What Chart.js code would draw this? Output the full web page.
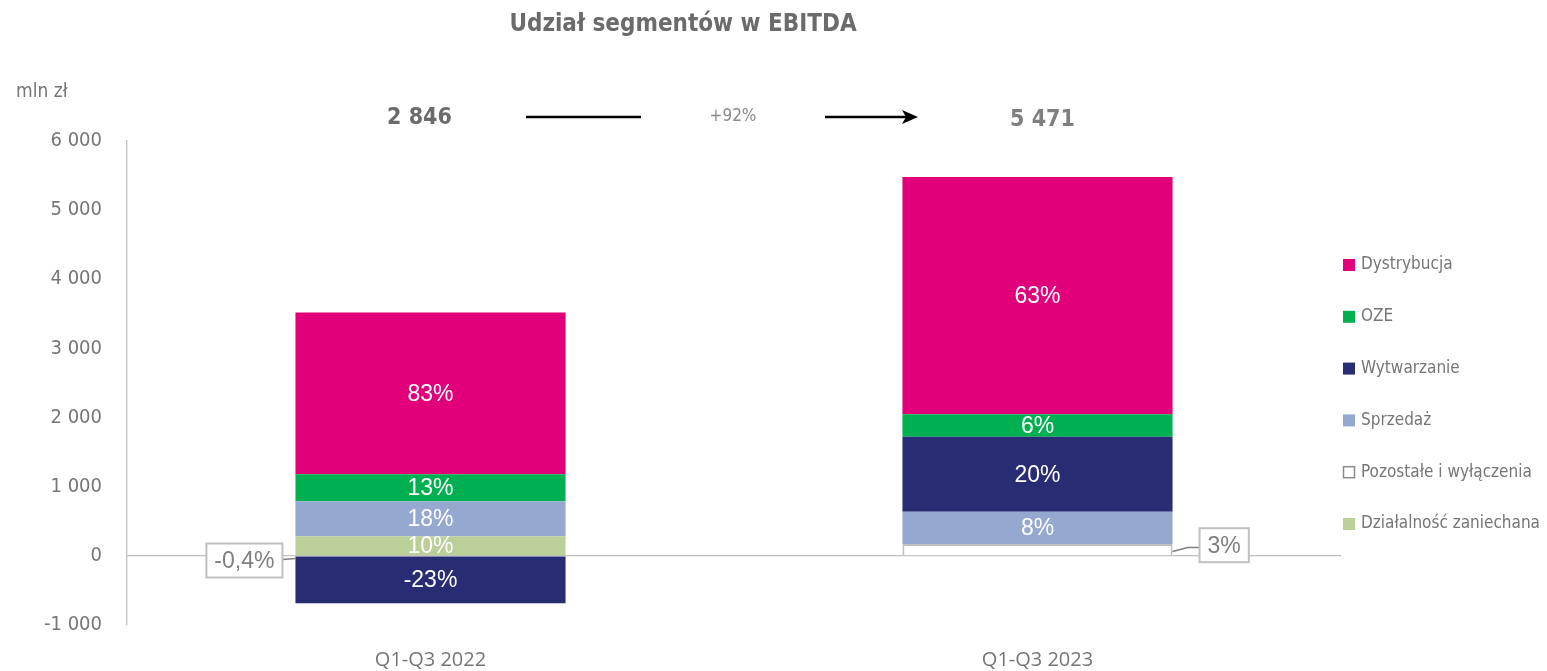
<!DOCTYPE html>
<html lang="pl">
<head>
<meta charset="utf-8">
<title>Udział segmentów w EBITDA</title>
<script src="https://cdn.jsdelivr.net/npm/chart.js@4"></script>
<style>
  html, body { margin: 0; padding: 0; background: #fff; }
  #wrap { width: 1547px; height: 671px; }
</style>
</head>
<body>
<div id="wrap"><canvas id="chart" width="1547" height="671"></canvas></div>
<script>
// dane (mln zł)
const categories = ['Q1-Q3 2022', 'Q1-Q3 2023'];
const pozostale = [-11, 172];
const dzialalnosc = [283, 0];
const sprzedaz = [507, 467];
const wytwarzanie = [-675, 1085];
const oze = [391, 324];
const dystrybucja = [2339, 3432];

// udziały pokazane na słupkach
const sharePozostale = ['-0,4%', '3%'];
const shareDzialalnosc = ['10%', ''];
const shareSprzedaz = ['18%', '8%'];
const shareWytwarzanie = ['-23%', '20%'];
const shareOze = ['13%', '6%'];
const shareDystrybucja = ['83%', '63%'];

const totals = ['2 846', '5 471'];
const growth = '+92%';
const yTicks = [-1000, 0, 1000, 2000, 3000, 4000, 5000, 6000];
const legendOrder = ['Dystrybucja', 'OZE', 'Wytwarzanie', 'Sprzedaż', 'Pozostałe i wyłączenia', 'Działalność zaniechana'];

const GRAY = '#767676';
const DARK_GRAY = '#6b6b6b';
const LINE_GRAY = '#c0c0c0';
const NARROW = "'Liberation Sans Narrow', 'DejaVu Sans Condensed', 'Roboto', sans-serif";
const ARIAL = "'Liberation Sans', Arial, sans-serif";
const OPEN = "'Open Sans', sans-serif";

const fmt = v => String(v).replace(/\B(?=(\d{3})+(?!\d))/g, ' ');

const datasets = [
  { label: 'Pozostałe i wyłączenia', data: pozostale, shares: sharePozostale, callout: true,
    backgroundColor: '#ffffff', borderColor: LINE_GRAY, borderWidth: 2 },
  { label: 'Działalność zaniechana', data: dzialalnosc, shares: shareDzialalnosc,
    backgroundColor: '#bbcf99', borderColor: '#bbcf99', borderWidth: 0 },
  { label: 'Sprzedaż', data: sprzedaz, shares: shareSprzedaz,
    backgroundColor: '#95a9d0', borderColor: '#95a9d0', borderWidth: 0 },
  { label: 'Wytwarzanie', data: wytwarzanie, shares: shareWytwarzanie,
    backgroundColor: '#282d73', borderColor: '#282d73', borderWidth: 0 },
  { label: 'OZE', data: oze, shares: shareOze,
    backgroundColor: '#00b050', borderColor: '#00b050', borderWidth: 0 },
  { label: 'Dystrybucja', data: dystrybucja, shares: shareDystrybucja,
    backgroundColor: '#e2007a', borderColor: '#e2007a', borderWidth: 0 }
];

const calloutBox = (ctx, x, y, w, h) => {
  ctx.fillStyle = '#fff';
  ctx.fillRect(x, y, w, h);
  ctx.strokeStyle = LINE_GRAY;
  ctx.lineWidth = 2;
  ctx.strokeRect(x, y, w, h);
};

const segmentLabels = {
  id: 'segmentLabels',
  afterDatasetsDraw(chart) {
    const ctx = chart.ctx;
    ctx.save();
    ctx.textAlign = 'center';
    ctx.textBaseline = 'middle';
    ctx.font = `23px ${ARIAL}`;
    chart.data.datasets.forEach((ds, di) => {
      const meta = chart.getDatasetMeta(di);
      meta.data.forEach((bar, i) => {
        const text = ds.shares[i];
        if (!text) return;
        const top = Math.min(bar.y, bar.base);
        const bottom = Math.max(bar.y, bar.base);
        const half = bar.width / 2;
        if (ds.callout) {
          const tw = ctx.measureText(text).width;
          const bw = tw + 16;
          const bh = 34;
          const left = i === 0;
          const bx = left ? bar.x - half - 13 - bw : bar.x + half + 27;
          const by = left ? bar.base - 13 : bar.base - 27;
          const mid = (top + bottom) / 2;
          ctx.strokeStyle = '#7f7f7f';
          ctx.lineWidth = 1.5;
          ctx.beginPath();
          if (left) {
            ctx.moveTo(bx + bw, by + bh / 2 - 1);
            ctx.lineTo(bar.x - half, by + bh / 2 - 2);
          } else {
            ctx.moveTo(bar.x + half, mid + 2);
            ctx.lineTo(bar.x + half + 15, mid - 2);
            ctx.lineTo(bx, mid - 2);
          }
          ctx.stroke();
          calloutBox(ctx, bx, by, bw, bh);
          ctx.fillStyle = '#7f7f7f';
          ctx.fillText(text, bx + bw / 2, by + bh / 2 + 1);
        } else {
          ctx.fillStyle = '#ffffff';
          ctx.fillText(text, bar.x, (top + bottom) / 2 + 1);
        }
      });
    });
    ctx.restore();
  },
  afterDraw(chart) {
    const ctx = chart.ctx;
    const area = chart.chartArea;
    const bars = chart.getDatasetMeta(0).data;
    ctx.save();

    // tytuł
    ctx.fillStyle = DARK_GRAY;
    ctx.textAlign = 'center';
    ctx.textBaseline = 'middle';
    ctx.font = `bold 24px ${NARROW}`;
    ctx.fillText('Udział segmentów w EBITDA', 683, 25);

    // jednostka
    ctx.textAlign = 'left';
    ctx.font = `19px ${NARROW}`;
    ctx.fillStyle = GRAY;
    ctx.fillText('mln zł', 16, 92);

    // sumy i dynamika
    ctx.textAlign = 'center';
    ctx.font = `bold 23px ${NARROW}`;
    ctx.fillStyle = DARK_GRAY;
    ctx.fillText(totals[0], bars[0].x - 11, 118);
    ctx.fillStyle = '#7f7f7f';
    ctx.fillText(totals[1], bars[1].x + 5, 120);

    ctx.strokeStyle = '#000';
    ctx.lineWidth = 2.5;
    ctx.beginPath();
    ctx.moveTo(526, 117);
    ctx.lineTo(641, 117);
    ctx.moveTo(825, 117);
    ctx.lineTo(906, 117);
    ctx.stroke();
    ctx.fillStyle = '#000';
    ctx.beginPath();
    ctx.moveTo(918, 117);
    ctx.lineTo(902, 110);
    ctx.lineTo(906, 117);
    ctx.lineTo(902, 124);
    ctx.closePath();
    ctx.fill();

    ctx.font = `17px ${NARROW}`;
    ctx.fillStyle = '#8a8a8a';
    ctx.fillText(growth, 733, 117);

    // legenda
    ctx.textAlign = 'left';
    ctx.font = `17px ${NARROW}`;
    legendOrder.forEach((name, k) => {
      const ds = chart.data.datasets.find(d => d.label === name);
      const cy = 265 + k * 51.8;
      const bx = area.right + 2;
      if (ds.callout) {
        ctx.fillStyle = '#fff';
        ctx.fillRect(bx + 0.5, cy - 5.5, 11, 11);
        ctx.strokeStyle = '#8a8a8a';
        ctx.lineWidth = 1.5;
        ctx.strokeRect(bx + 0.5, cy - 5.5, 11, 11);
      } else {
        ctx.fillStyle = ds.backgroundColor;
        ctx.fillRect(bx, cy - 6, 12, 12);
      }
      ctx.fillStyle = GRAY;
      ctx.fillText(name, bx + 18, cy);
    });
    ctx.restore();
  }
};

new Chart(document.getElementById('chart'), {
  type: 'bar',
  data: { labels: categories, datasets },
  options: {
    responsive: false,
    animation: false,
    devicePixelRatio: 1,
    layout: { padding: { top: 141, right: 206, bottom: 0, left: 0 } },
    datasets: { bar: { barPercentage: 0.445, categoryPercentage: 1 } },
    plugins: {
      legend: { display: false },
      tooltip: { enabled: false }
    },
    scales: {
      x: {
        stacked: true,
        grid: { display: false, drawTicks: false },
        border: { display: false },
        ticks: { color: GRAY, font: { family: OPEN, size: 20 }, padding: 23 },
        afterFit: s => { s.height = 46; }
      },
      y: {
        stacked: true,
        min: -1000,
        max: 6000,
        afterBuildTicks: s => { s.ticks = yTicks.map(v => ({ value: v })); },
        afterFit: s => { s.width = 127; },
        grid: {
          drawTicks: false,
          color: c => (c.tick && c.tick.value === 0 ? LINE_GRAY : 'rgba(0,0,0,0)'),
          lineWidth: 1.3
        },
        border: { display: true, color: LINE_GRAY, width: 1.3 },
        ticks: {
          color: GRAY,
          padding: 25,
          font: { family: NARROW, size: 20 },
          callback: v => fmt(v)
        }
      }
    }
  },
  plugins: [segmentLabels]
});
</script>
</body>
</html>
